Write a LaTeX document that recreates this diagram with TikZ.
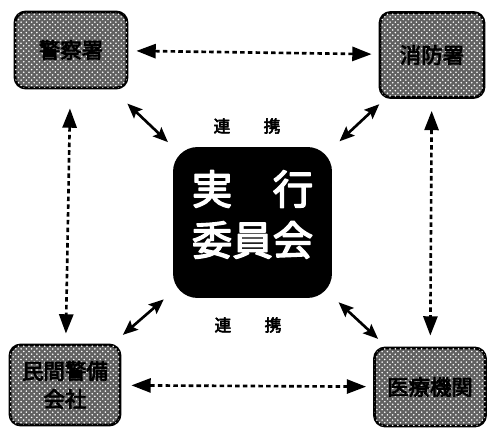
\documentclass[tikz,border=0pt]{standalone}
\usepackage{fontspec}
\newfontfamily\jpfont{Noto Sans CJK JP}[FakeBold=3.5]
\usetikzlibrary{arrows.meta,patterns}

\begin{document}
\begin{tikzpicture}[x=.02cm, y=-.02cm, line join=round]
  \tikzset{agency/.style={draw=black, line width=1.6pt, rounded corners=6pt, fill=black!62, postaction={pattern=crosshatch dots, pattern color=white}, inner sep=0pt, align=center, font=\jpfont\fontsize{12.2}{16}\selectfont},
    council/.style={fill=black, rounded corners=14pt, text=white, align=center, inner sep=0pt, font=\jpfont\fontsize{23}{29}\selectfont},
    linkword/.style={font=\jpfont\fontsize{9.5}{11}\selectfont},
    dotlink/.style={line width=1.5pt, dash pattern=on 2.6pt off 1.8pt, {Triangle[length=11pt,width=8pt]}-{Triangle[length=11pt,width=8pt]}},
    solidlink/.style={line width=1.5pt, {Stealth[length=8.5pt,width=7pt,inset=1.5pt]}-{Stealth[length=8.5pt,width=7pt,inset=1.5pt]}}}
  \useasboundingbox (0,0) rectangle (489,428);

  % the four agencies in the corners
  \node[agency, minimum width=2.24cm, minimum height=1.52cm] (police) at (71,50) {警察署};
  \node[agency, minimum width=2.08cm, minimum height=1.7cm] (fire) at (432,55) {消防署};
  \node[agency, minimum width=2.2cm, minimum height=1.6cm] (civil) at (65,385) {民間警備\\会社};
  \node[agency, minimum width=2.22cm, minimum height=1.56cm] (medical) at (430,387) {医療機関};

  % committee in the middle
  \node[council, minimum width=3.18cm, minimum height=3.02cm, text depth=11pt] (council) at (252.5,222.5) {実　行\\委員会};
  \node[linkword] (linkup) at (247,126) {連　　携};
  \node[linkword] (linkdown) at (248,325) {連　　携};

  % dotted links round the edge
  \draw[dotlink, shorten <=.16cm, shorten >=.14cm] (police) -- (fire);
  \draw[dotlink, shorten <=.2cm, shorten >=.14cm] (civil) -- (medical);
  \draw[dotlink, shorten <=.38cm, shorten >=.2cm] (police) -- (civil);
  \draw[dotlink, shorten <=.24cm, shorten >=.22cm] (fire) -- (medical);

  % solid links to the committee
  \draw[solidlink, shorten <=1.556cm, shorten >=2.334cm] (police.center) -- (council.center);
  \draw[solidlink, shorten <=1.442cm, shorten >=2.38cm] (fire.center) -- (council.center);
  \draw[solidlink, shorten <=1.532cm, shorten >=2.348cm] (civil.center) -- (council.center);
  \draw[solidlink, shorten <=1.416cm, shorten >=2.348cm] (medical.center) -- (council.center);
\end{tikzpicture}
\end{document}
